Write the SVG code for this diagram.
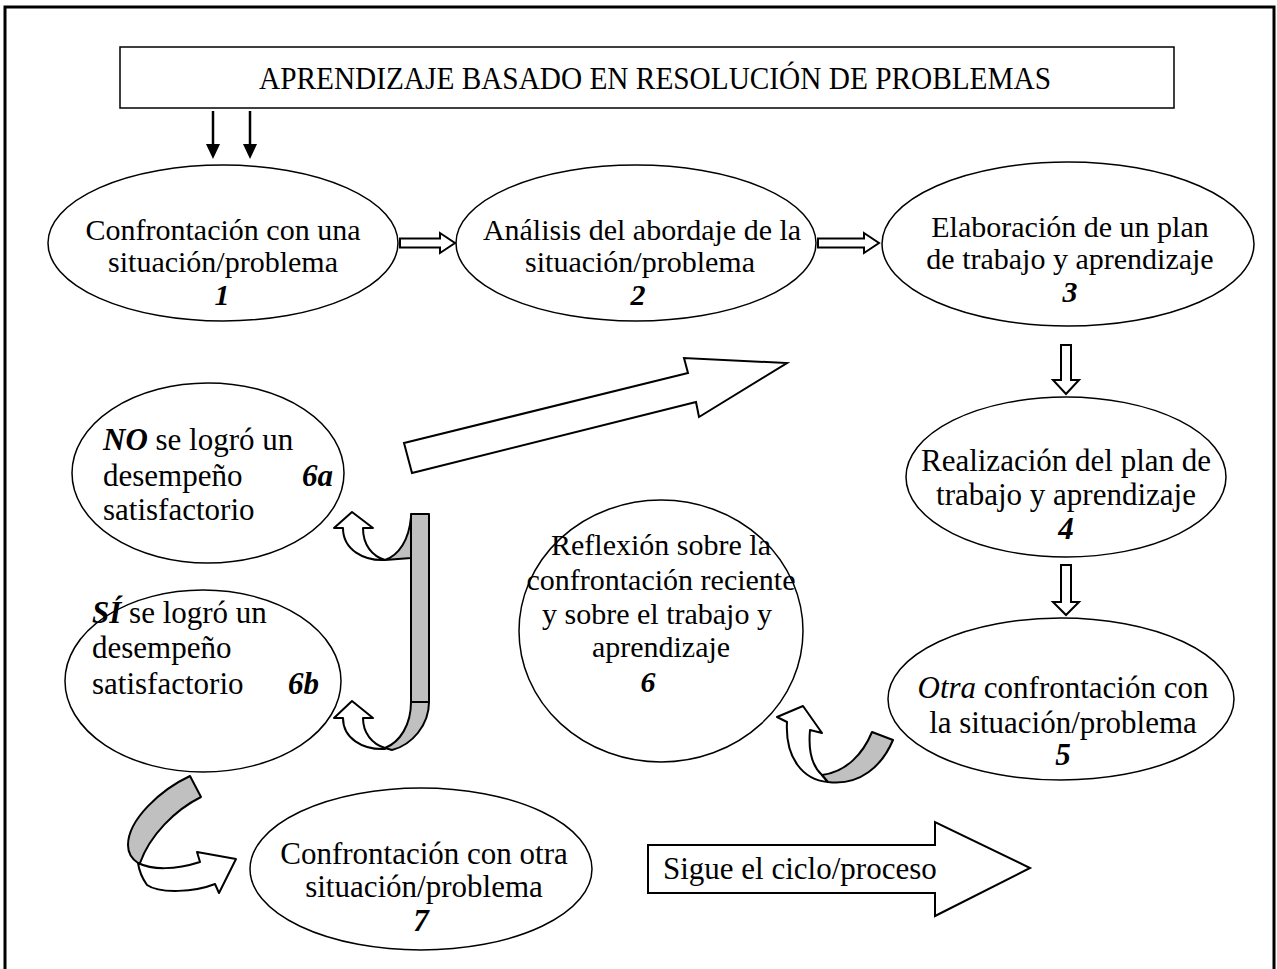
<svg xmlns="http://www.w3.org/2000/svg" width="1277" height="969" viewBox="0 0 1277 969">
<style>
.n{fill:#fff;stroke:#000;stroke-width:1.5}
.t{font-family:"Liberation Serif","Times New Roman",serif;font-size:31px;fill:#000;text-anchor:middle}
.s{font-size:30px}
.l{text-anchor:start}
.b{font-weight:bold;font-style:italic}
.i{font-style:italic}
.ha{fill:#fff;stroke:#000;stroke-width:2;stroke-linejoin:miter}
.g{fill:#c0c0c0;stroke:#000;stroke-width:2;stroke-linejoin:round}
.w{fill:#fff;stroke:#000;stroke-width:2;stroke-linejoin:round}
</style>
<rect x="0" y="0" width="1277" height="969" fill="#fff"/>
<rect x="5" y="7" width="1269" height="980" fill="none" stroke="#000" stroke-width="3"/>

<g id="title">
<rect x="120" y="47" width="1054" height="61" fill="#fff" stroke="#000" stroke-width="1.5"/>
<text class="t l" x="259" y="89" font-size="31" textLength="792" lengthAdjust="spacingAndGlyphs">APRENDIZAJE BASADO EN RESOLUCIÓN DE PROBLEMAS</text>
</g>

<g id="n1">
<ellipse class="n" cx="223" cy="243" rx="175" ry="78"/>
<text class="t s" x="223" y="240">Confrontación con una</text>
<text class="t s" x="223" y="272">situación/problema</text>
<text class="t s b" x="222" y="305">1</text>
</g>
<g id="n2">
<ellipse class="n" cx="636" cy="243" rx="180" ry="78"/>
<text class="t s" x="642" y="240">Análisis del abordaje de la</text>
<text class="t s" x="640" y="272">situación/problema</text>
<text class="t s b" x="638" y="305">2</text>
</g>
<g id="n3">
<ellipse class="n" cx="1068" cy="244" rx="186" ry="82"/>
<text class="t s" x="1070" y="237">Elaboración de un plan</text>
<text class="t s" x="1070" y="269">de trabajo y aprendizaje</text>
<text class="t s b" x="1070" y="302">3</text>
</g>
<g id="n4">
<ellipse class="n" cx="1066" cy="477" rx="160" ry="80"/>
<text class="t" x="1066" y="471">Realización del plan de</text>
<text class="t" x="1066" y="505">trabajo y aprendizaje</text>
<text class="t b" x="1066" y="539">4</text>
</g>
<g id="n5">
<ellipse class="n" cx="1061" cy="699" rx="173" ry="81"/>
<text class="t" x="1063" y="698"><tspan class="i">Otra</tspan> confrontación con</text>
<text class="t" x="1063" y="733">la situación/problema</text>
<text class="t b" x="1063" y="765">5</text>
</g>
<g id="n6">
<ellipse class="n" cx="661" cy="631" rx="142" ry="131"/>
<text class="t s" x="661" y="555">Reflexión sobre la</text>
<text class="t s" x="661" y="590">confrontación reciente</text>
<text class="t s" x="657" y="624">y sobre el trabajo y</text>
<text class="t s" x="661" y="657">aprendizaje</text>
<text class="t s b" x="648" y="692">6</text>
</g>
<g id="n6a">
<ellipse class="n" cx="208" cy="473" rx="136" ry="90"/>
<text class="t l" x="103" y="450"><tspan class="b">NO</tspan> se logró un</text>
<text class="t l" x="103" y="486">desempeño</text>
<text class="t l b" x="302" y="486">6a</text>
<text class="t l" x="103" y="520">satisfactorio</text>
</g>
<g id="n6b">
<ellipse class="n" cx="203" cy="681" rx="138" ry="91"/>
<text class="t l" x="92" y="623"><tspan class="b">SÍ</tspan> se logró un</text>
<text class="t l" x="92" y="658">desempeño</text>
<text class="t l" x="92" y="694">satisfactorio</text>
<text class="t l b" x="288" y="694">6b</text>
</g>
<g id="n7">
<ellipse class="n" cx="421" cy="869" rx="171" ry="81"/>
<text class="t" x="424" y="864">Confrontación con otra</text>
<text class="t" x="424" y="897">situación/problema</text>
<text class="t b" x="421" y="931">7</text>
</g>
<g id="n8">
<polygon class="ha" points="648,845 935,845 935,822 1030,868 935,916 935,893 648,893"/>
<text class="t l" x="663" y="879">Sigue el ciclo/proceso</text>
</g>

<g id="connectors">
<line x1="213" y1="111" x2="213" y2="145" stroke="#000" stroke-width="2.5"/>
<polygon points="206,144 220,144 213,159" fill="#000"/>
<line x1="250" y1="111" x2="250" y2="145" stroke="#000" stroke-width="2.5"/>
<polygon points="243,144 257,144 250,159" fill="#000"/>
<polygon class="ha" points="400,238.5 440,238.5 440,233 455,243 440,253 440,247.5 400,247.5"/>
<polygon class="ha" points="818,238.5 864,238.5 864,233 879,243 864,253 864,247.5 818,247.5"/>
<polygon class="ha" points="1061,345 1071,345 1071,380 1079,380 1066,394 1053,380 1061,380"/>
<polygon class="ha" points="1061,565 1071,565 1071,602 1079,602 1066,615 1053,602 1061,602"/>
<polygon class="ha" points="404,443 688,373 684,358 787,363 699,417 696,402 412,473"/>
<rect class="g" x="411" y="514" width="18" height="188" stroke-linejoin="miter"/>
<path class="g" d="M411 517 C409 540 399 555 385 560 L411 558 Z"/>
<path class="w" d="M385 560 C364 561 343 550 343 528 L334 528 L352 512 L373 528 L363 528 C363 545 372 556 385 560 Z"/>
<path class="g" d="M411 702 C411 725 400 742 385 748 L392 750 C412 745 429 725 429 702 Z"/>
<path class="w" d="M385 749 C362 750 343 738 343 718 L334 718 L352 701 L373 718 L363 718 C363 733 372 744 385 748 Z"/>
<path class="w" d="M787 722 L777 717 L803 706 L822 733 L810 730 C808 752 812 766 822 775 L828 782 C803 780 785 758 787 722 Z"/>
<path class="g" d="M822 775 C846 772 863 754 872 732 L893 740 C882 766 860 786 828 782 Z"/>
<path class="w" d="M138 863 C152 870 175 870 200 862 L197 852 L236 859 L219 893 L215 884 C195 892 160 894 147 885 C142 878 139 870 138 863 Z"/>
<path class="g" d="M190 776 C160 790 128 820 128 845 C128 853 132 859 138 863 L140 863 C150 835 175 810 201 797 Z"/>
</g>
</svg>
